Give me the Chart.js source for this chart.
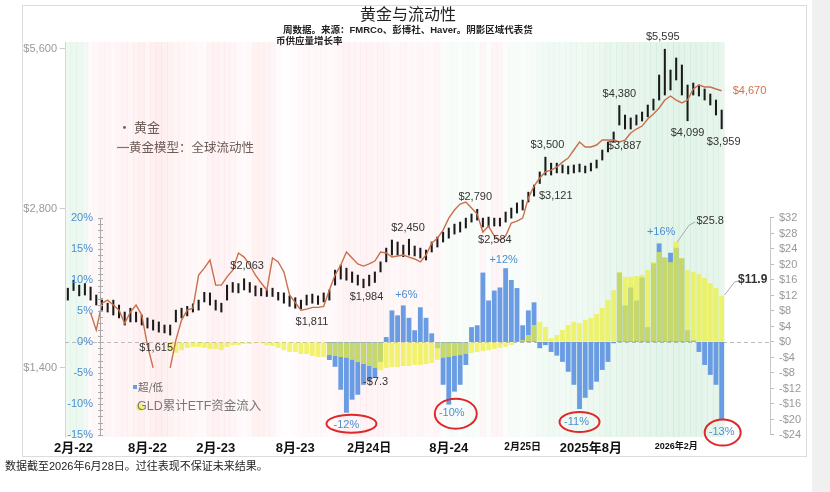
<!DOCTYPE html>
<html>
<head>
<meta charset="utf-8">
<script src="https://cdn.jsdelivr.net/npm/chart.js@4.4.0/dist/chart.umd.min.js"></script>
<style>
  html, body { margin: 0; padding: 0; background: #fff; }
</style>
</head>
<body>
<canvas id="myChart" width="830" height="492"></canvas>
<script>
  // biweekly points, Jan 2022 - Jun 2026
  let goldHigh = [1980,2050,2007,2020,1990,1922,1890,1855,1880,1840,
      1785,1815,1785,1762,1740,1724,1710,1687,1687,1800,
      1815,1830,1850,1880,1945,1940,1880,1855,2007,2030,
      2020,2063,2030,2000,1980,1965,1980,1945,1940,1915,
      1900,1880,1922,1930,1915,1940,1965,2142,2190,2160,
      2125,2096,2060,2096,2125,2220,2357,2441,2420,2388,
      2450,2378,2357,2337,2420,2473,2527,2572,2616,2639,
      2685,2733,2790,2685,2697,2685,2685,2757,2805,2868,
      2904,3006,3100,3282,3500,3410,3410,3382,3367,3382,
      3396,3367,3410,3456,3610,3738,3904,4380,4203,4150,
      4203,4258,4390,4505,5001,5595,5111,5386,5224,4789,
      4830,4789,4706,4605,4486,4295];
  let goldLow = [1880,1960,1915,1922,1880,1840,1800,1785,1762,1740,
      1687,1710,1710,1687,1665,1650,1636,1630,1615,1710,
      1740,1755,1785,1800,1865,1840,1800,1785,1880,1945,
      1940,1965,1945,1915,1915,1910,1910,1880,1855,1830,
      1815,1811,1840,1855,1845,1865,1880,2007,2060,2050,
      2030,2007,1984,2000,2030,2125,2220,2287,2287,2270,
      2287,2278,2258,2238,2317,2368,2420,2461,2505,2527,
      2572,2639,2662,2584,2583,2594,2594,2639,2685,2745,
      2781,2880,2955,3121,3238,3238,3268,3268,3253,3268,
      3282,3268,3296,3338,3456,3580,3736,4024,3955,3955,
      4024,4095,4170,4295,4486,4585,4686,4894,4585,4099,
      4585,4565,4486,4390,4203,3959];
  let goldModel = [null,null,null,null,1780,1650,1855,1880,1840,1800,
      1700,1785,1840,1762,1546,1400,null,null,1400,1580,
      1724,1800,1815,2096,2160,2238,2007,2007,2080,2142,
      2307,2267,2190,2096,2025,1964,2258,2220,2125,1922,
      1860,1800,1808,1822,1822,1830,1964,2096,2190,2317,
      2258,2200,2180,2200,2228,2317,2307,2267,2278,2287,
      2267,2248,2220,2287,2409,2461,2549,2685,2781,2855,
      2880,2805,2733,2527,2594,2483,2441,2483,2628,2650,
      2685,2930,3085,3196,3282,3309,3352,3425,3485,3610,
      3738,3658,3658,3689,3770,3770,3770,3738,3770,3887,
      3955,4006,4130,4220,4333,4486,4565,4486,4429,4486,
      4706,4789,4747,4747,4706,4670];
  // 超/低 (%), starts mid 2023
  let gapPct = Array(46).fill(null).concat([
      -2.9,-4.0,-7.7,-11.4,-9.3,-8.5,-6.9,-6.4,-5.8,-3.2,
      0.8,5.1,4.3,5.9,3.9,1.9,5.6,3.9,1.4,-1.0,
      -6.9,-10.1,-8.0,-6.9,-3.7,2.4,2.7,11.2,6.7,8.3,
      8.8,11.9,10.0,8.7,2.7,5.1,6.4,-1.0,-0.5,-1.6,
      -2.2,-3.2,-4.8,-6.9,-10.8,-9.0,-7.7,-6.4,-4.5,-3.2,
      -0.2,11.2,5.9,8.8,6.7,10.4,2.4,12.7,15.9,13.6,
      14.4,15.2,13.5,1.9,0.3,-1.6,-3.7,-5.3,-6.9,-12.5]);
  // GLD 累计ETF资金流入 ($bn), starts autumn 2022
  let gldFlows = Array(18).fill(null).concat([
      -2.1,-2.8,-2.1,-1.5,-1.3,-1.3,-1.5,-1.8,-1.8,-2.1,
      -1.3,-0.8,-0.8,-0.5,-0.5,-0.3,-0.3,-0.8,-1.0,-1.5,
      -2.1,-2.6,-2.6,-3.1,-3.1,-3.6,-3.9,-3.9,-3.4,-3.6,
      -3.9,-4.1,-4.6,-5.2,-5.7,-6.2,-6.7,-7.3,-6.7,-6.5,
      -6.5,-6.2,-6.2,-5.9,-5.9,-5.7,-5.4,-4.6,-4.1,-3.9,
      -3.6,-3.4,-3.1,-2.8,-2.6,-2.3,-2.1,-1.8,-1.5,-1.3,
      -0.8,0.2,0.5,1.8,4.4,5.2,3.9,1.0,1.8,3.1,
      4.4,5.2,4.9,5.7,6.2,7.2,8.8,10.8,13.4,18.1,
      16.8,16.8,17.0,17.3,18.6,20.6,23.2,21.7,20.6,25.8,
      21.7,18.6,18.1,17.5,16.5,15.2,13.9,11.9]);
  // money supply growth shading (+ green, - red)
  let liquidity = [0.5,0.5,0.5,0.4,-0.3,-0.4,-0.5,-0.5,-0.4,-0.5,
      -0.6,-0.5,-0.7,-0.8,-0.5,-0.8,-0.9,-0.8,-0.7,-0.5,
      -0.5,-0.4,-0.4,-0.3,-0.3,-0.6,-0.7,-0.6,-0.6,-0.5,
      -0.3,-0.2,-0.4,-0.7,-0.7,-0.6,-0.5,-0.2,-0.1,-0.1,
      -0.2,-0.3,-0.4,-0.3,-0.4,-0.3,-0.2,-0.3,-0.5,-0.7,
      -0.6,-0.5,-0.6,-0.6,-0.5,-0.6,-0.5,-0.4,-0.4,-0.5,
      -0.4,-0.4,-0.5,-0.4,-0.4,-0.5,0.1,0.2,0.2,0.1,
      0.2,0.2,0.1,-0.5,0.1,-0.5,-0.5,0.1,0.2,0.2,
      0.1,0.2,0.2,0.3,0.35,0.4,0.4,0.35,0.4,0.45,
      0.4,0.45,0.5,0.5,0.55,0.6,0.55,0.6,0.6,0.65,
      0.6,0.65,0.7,0.7,0.75,0.7,0.75,0.8,0.75,0.7,
      0.75,0.7,0.7,0.65,0.7,0.6];

  let tickWeeks = [1, 14, 26, 40, 53, 67, 80, 92, 107];
  let tickLabels = ['2月-22', '8月-22', '2月-23', '8月-23', '2月24日', '8月-24', '2月25日', '2025年8月', '2026年2月'];
  let tickSizes = [13, 13, 13, 13, 12, 13, 10, 13, 9];
  let priceTicks = [1400, 2800, 5600];

  const FONT = '"Liberation Sans", "Noto Sans CJK SC", sans-serif';
  const CJK = '"Noto Sans CJK SC", sans-serif';

  let weeks = [];
  let start = Date.UTC(2022, 0, 9);
  for (let i = 0; i < goldHigh.length; i++) {
      weeks.push(new Date(start + i * 14 * 864e5).toISOString().slice(0, 10));
  }
  // empty slots so the right axis sits away from the last bar
  for (let i = 0; i < 8; i++) weeks.push('pad' + i);

  function shadeColor(v) {
      if (v >= 0) return 'rgba(120,200,150,' + (v * 0.27).toFixed(3) + ')';
      return 'rgba(250,160,170,' + (-v * 0.2).toFixed(3) + ')';
  }

  const callouts = [
      ['$5,595', 'yPrice', 105, 5595, -2, -12],
      ['$4,380', 'yPrice', 97, 4380, 0, -12],
      ['$3,500', 'yPrice', 84, 3500, 2, -12],
      ['$2,790', 'yPrice', 72, 2790, -2, -12],
      ['$2,450', 'yPrice', 60, 2450, -1, -11],
      ['$2,063', 'yPrice', 31, 2063, 3, -13],
      ['$3,887', 'yPrice', 96, 3887, 11, 13],
      ['$3,121', 'yPrice', 83, 3121, 16, 12],
      ['$2,584', 'yPrice', 73, 2584, 12, 13],
      ['$1,984', 'yPrice', 52, 1984, 3, 9],
      ['$1,811', 'yPrice', 41, 1811, 11, 13],
      ['$1,615', 'yPrice', 18, 1615, -14, 13],
      ['$4,099', 'yPrice', 109, 4099, 0, 12],
      ['$3,959', 'yPrice', 115, 3959, 2, 13],
      ['-$7.3', 'yEtf', 55, -7.3, -5, 12]
  ];
  const pctNotes = [
      ['+6%', 59, 5.9, 3, -10],
      ['+12%', 77, 11.9, -2, -8],
      ['+16%', 104, 15.9, 2, -11]
  ];
  // text, index, value, text dx, dy, ellipse dx, dy, rx, ry
  const circled = [
      ['-12%', 49, -11.4, 0, 12, 5, 11, 25, 9],
      ['-10%', 67, -10.1, 3, 8, 7, 9, 21, 15],
      ['-11%', 90, -10.8, -3, 13, 0, 13, 20, 10],
      ['-13%', 115, -12.5, 0, 12, 1, 13, 18, 13]
  ];

  function txt(c, s, x, y, font, color, align) {
      c.font = font;
      c.fillStyle = color;
      c.textAlign = align || 'center';
      c.textBaseline = 'middle';
      c.fillText(s, x, y);
  }

  const decor = {
      id: 'decor',
      beforeDraw(chart) {
          const c = chart.ctx;
          c.save();
          c.fillStyle = '#f0f0f0';
          c.fillRect(812, 0, 18, 492);
          c.strokeStyle = '#dcdcdc';
          c.lineWidth = 1;
          c.strokeRect(22.5, 5.5, 784, 451);
          c.restore();
      },
      beforeDatasetsDraw(chart) {
          const c = chart.ctx, a = chart.chartArea;
          const y0 = Math.round(chart.scales.yPct.getPixelForValue(0)) + 0.5;
          c.save();
          c.strokeStyle = '#bbbbbb';
          c.setLineDash([4, 3]);
          c.beginPath();
          c.moveTo(a.left, y0);
          c.lineTo(a.right, y0);
          c.stroke();
          c.restore();
      },
      afterDatasetsDraw(chart) {
          const c = chart.ctx, a = chart.chartArea, xs = chart.scales.x;
          const yp = chart.scales.yPct, ye = chart.scales.yEtf;
          c.save();
          // inner % axis
          c.strokeStyle = '#aaaaaa';
          c.lineWidth = 1;
          c.beginPath();
          c.moveTo(100.5, yp.getPixelForValue(20));
          c.lineTo(100.5, yp.getPixelForValue(-15));
          for (let v = -15; v <= 20; v++) {
              let y = Math.round(yp.getPixelForValue(v)) + 0.5;
              c.moveTo(98, y);
              c.lineTo(103, y);
          }
          c.stroke();
          for (let v = -15; v <= 20; v += 5) {
              txt(c, v + '%', 93, yp.getPixelForValue(v), '11px ' + FONT, '#4a8fcf', 'right');
          }
          // right $ axis line
          c.strokeStyle = '#c8c8c8';
          c.beginPath();
          c.moveTo(a.right + 0.5, ye.getPixelForValue(32));
          c.lineTo(a.right + 0.5, ye.getPixelForValue(-24));
          c.stroke();

          callouts.forEach(n => {
              let x = xs.getPixelForValue(n[2]) + n[4];
              let y = chart.scales[n[1]].getPixelForValue(n[3]) + n[5];
              txt(c, n[0], x, y, '11px ' + FONT, '#333333');
          });
          pctNotes.forEach(n => {
              txt(c, n[0], xs.getPixelForValue(n[1]) + n[3], yp.getPixelForValue(n[2]) + n[4], '11px ' + FONT, '#4a8fcf');
          });
          c.strokeStyle = '#e0282a';
          c.lineWidth = 2;
          circled.forEach(n => {
              let x = xs.getPixelForValue(n[1]), y = yp.getPixelForValue(n[2]);
              txt(c, n[0], x + n[3], y + n[4], '11px ' + FONT, '#4a8fcf');
              c.beginPath();
              c.ellipse(x + n[5], y + n[6], n[7], n[8], 0, 0, Math.PI * 2);
              c.stroke();
          });

          // model end value
          let xe = xs.getPixelForValue(115);
          txt(c, '$4,670', xe + 11, chart.scales.yPrice.getPixelForValue(4670), '11px ' + FONT, '#d0704a', 'left');

          // ETF leader labels
          c.strokeStyle = '#aaaaaa';
          c.lineWidth = 1;
          let xp = xs.getPixelForValue(107), yPk = ye.getPixelForValue(25.8);
          c.beginPath();
          c.moveTo(xp + 1, yPk);
          c.lineTo(xp + 13, yPk - 17);
          c.lineTo(xp + 19, yPk - 20);
          c.stroke();
          txt(c, '$25.8', xp + 34, yPk - 21, '11px ' + FONT, '#333333');
          let yEnd = ye.getPixelForValue(11.9);
          c.beginPath();
          c.moveTo(xe + 3, yEnd - 1);
          c.lineTo(xe + 13, yEnd - 14);
          c.lineTo(xe + 18, yEnd - 15);
          c.stroke();
          txt(c, '$11.9', xe + 31, yEnd - 16, 'bold 12px ' + FONT, '#333333');

          // legends
          txt(c, '· 黄金', 118, 127, '13px ' + CJK, '#6b5a56', 'left');
          c.strokeStyle = '#9a6a58';
          c.lineWidth = 1.2;
          c.beginPath();
          c.moveTo(117, 147.5);
          c.lineTo(129, 147.5);
          c.stroke();
          txt(c, '黄金模型：全球流动性', 129, 147, '12.5px ' + CJK, '#6b5a56', 'left');
          c.fillStyle = '#6a9ce3';
          c.fillRect(133, 385, 4, 4);
          txt(c, '超/低', 138, 387, '10.5px ' + CJK, '#666666', 'left');
          c.fillStyle = 'rgba(240,240,100,0.8)';
          c.beginPath();
          c.arc(140, 407, 4, 0, Math.PI * 2);
          c.fill();
          txt(c, 'GLD累计ETF资金流入', 137, 407, '12.5px ' + FONT, '#777777', 'left');
          c.restore();
      },
      afterDraw(chart) {
          const c = chart.ctx;
          c.save();
          txt(c, '黄金与流动性', 408, 14, '16px ' + CJK, '#222222');
          txt(c, '周数据。来源：FMRCo、彭博社、Haver。阴影区域代表货', 283, 30, 'bold 9.5px ' + FONT, '#222222', 'left');
          txt(c, '币供应量增长率', 276, 41, 'bold 9.5px ' + FONT, '#222222', 'left');
          txt(c, '数据截至2026年6月28日。过往表现不保证未来结果。', 5, 467, '11px ' + FONT, '#222222', 'left');
          c.restore();
      }
  };

  let ctx = document.getElementById('myChart').getContext('2d');
  let myChart = new Chart(ctx, {
      type: 'bar',
      data: {
          labels: weeks,
          datasets: [{
              type: 'line',
              label: '黄金模型：全球流动性',
              data: goldModel,
              yAxisID: 'yPrice',
              borderColor: '#c96f4b',
              borderWidth: 1.4,
              pointRadius: 0,
              spanGaps: false,
              order: 1
          }, {
              label: '黄金',
              data: goldLow.map((l, i) => [l, goldHigh[i]]),
              yAxisID: 'yPrice',
              backgroundColor: '#1a1a1a',
              barThickness: 1.4,
              grouped: false,
              order: 2
          }, {
              label: 'GLD累计ETF资金流入',
              data: gldFlows,
              yAxisID: 'yEtf',
              backgroundColor: 'rgba(236,240,60,0.72)',
              barPercentage: 0.85,
              categoryPercentage: 1,
              grouped: false,
              order: 4
          }, {
              label: '超/低',
              data: gapPct,
              yAxisID: 'yPct',
              backgroundColor: '#6a9ce3',
              barPercentage: 0.85,
              categoryPercentage: 1,
              grouped: false,
              order: 5
          }, {
              label: 'shade',
              data: liquidity.map(() => 1),
              yAxisID: 'yBg',
              backgroundColor: liquidity.map(shadeColor),
              barPercentage: 1,
              categoryPercentage: 1,
              grouped: false,
              order: 10
          }]
      },
      options: {
          responsive: false,
          animation: false,
          layout: { padding: { top: 42 } },
          plugins: {
              legend: { display: false },
              tooltip: { enabled: false }
          },
          scales: {
              x: {
                  offset: true,
                  grid: { display: false },
                  border: { display: false },
                  ticks: {
                      autoSkip: false,
                      maxRotation: 0,
                      padding: -4,
                      color: '#111111',
                      callback: function (value, index) {
                          let k = tickWeeks.indexOf(index);
                          return k >= 0 ? tickLabels[k] : '';
                      },
                      font: function (c) {
                          let k = tickWeeks.indexOf(c.index);
                          return { family: FONT, size: k >= 0 ? tickSizes[k] : 10, weight: 'bold' };
                      }
                  },
                  afterFit: s => { s.height = 55; }
              },
              yPrice: {
                  type: 'logarithmic',
                  position: 'left',
                  min: 1037,
                  max: 5773,
                  bounds: 'data',
                  afterBuildTicks: s => { s.ticks = priceTicks.map(v => ({ value: v })); },
                  ticks: {
                      color: '#999999',
                      padding: 3,
                      font: { family: FONT, size: 11 },
                      callback: v => '$' + v.toLocaleString('en-US')
                  },
                  grid: { drawOnChartArea: false, tickLength: 5, color: '#cccccc' },
                  border: { color: '#dddddd' },
                  afterFit: s => { s.width = 65; }
              },
              yEtf: {
                  type: 'linear',
                  position: 'right',
                  min: -24.52,
                  max: 77.42,
                  afterBuildTicks: s => {
                      let t = [];
                      for (let v = -24; v <= 32; v += 2) t.push({ value: v });
                      s.ticks = t;
                  },
                  ticks: {
                      color: '#999999',
                      padding: 5,
                      font: { family: FONT, size: 11 },
                      callback: v => (v % 4 ? '' : (v < 0 ? '-$' + (-v) : '$' + v))
                  },
                  grid: { drawOnChartArea: false, tickLength: 4, color: '#bbbbbb' },
                  border: { display: false },
                  afterFit: s => { s.width = 60; }
              },
              yPct: { type: 'linear', display: false, min: -15.32, max: 48.39 },
              yBg: { type: 'linear', display: false, min: 0, max: 1 }
          }
      },
      plugins: [decor]
  });
</script>
</body>
</html>
